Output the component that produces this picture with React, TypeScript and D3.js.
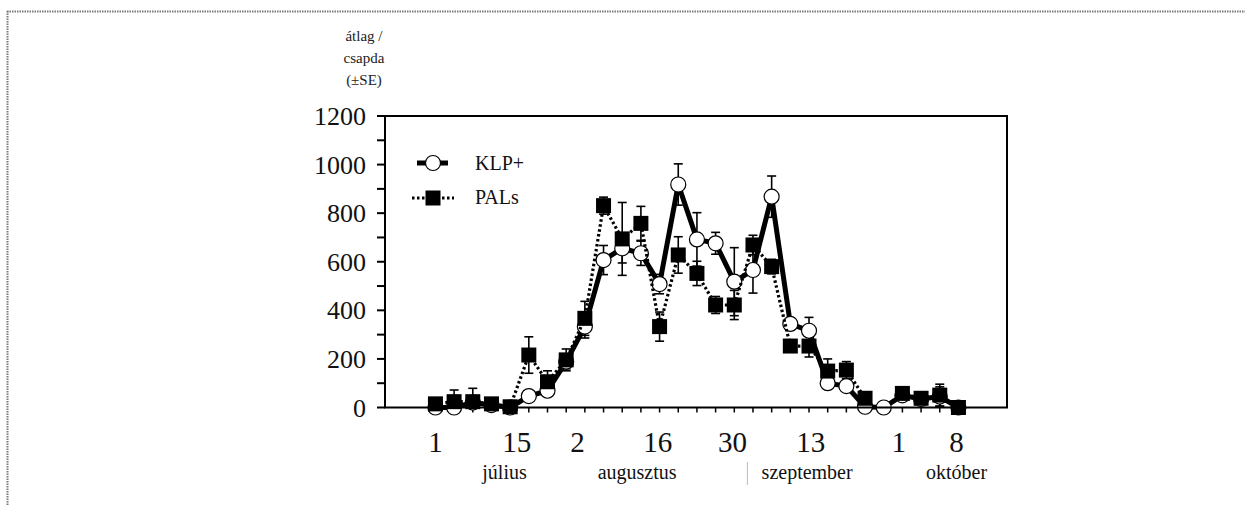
import React from 'react';
import * as d3 from 'd3';

// sampling occasions (index along the season)
const idx = d3.range(29);

// KLP+ traps, mean catch per trap and SE
const klp = [0, 0, 20, 10, 0, 47, 69, 189, 333, 607, 655, 635, 508, 918, 692, 676, 518, 566, 868, 344, 316, 100, 88, 3, 0, 50, 35, 45, 0];
const klpSe = [5, 5, 10, 10, 5, 10, 20, 30, 47, 60, 60, 50, 40, 85, 110, 45, 140, 95, 85, 25, 55, 20, 20, 10, 0, 10, 10, 40, 5];

// PALs traps
const pals = [15, 24, 24, 15, 3, 216, 106, 196, 367, 831, 694, 758, 333, 628, 552, 422, 422, 669, 580, 253, 253, 150, 154, 38, null, 58, 38, 51, 0];
const palsSe = [0, 48, 55, 10, 5, 75, 45, 45, 70, 35, 150, 70, 60, 75, 50, 35, 60, 40, 30, 20, 45, 50, 35, 15, null, 15, 15, 45, 5];

const yTicks = [0, 200, 400, 600, 800, 1000, 1200];
const yMinor = d3.range(0, 1201, 100);

// day labels and where they sit on the index axis
const dayLabels = ['1', '15', '2', '16', '30', '13', '1', '8'];
const dayPos = [0, 4.35, 7.6, 11.9, 15.9, 20.1, 24.8, 27.9];
const monthLabels = ['július', 'augusztus', 'szeptember', 'október'];
const monthPos = [3.7, 10.8, 19.9, 27.9];
const monthSep = 16.7;

const yTitle = ['átlag /', 'csapda', '(±SE)'];

const W = 1245;
const H = 506;
const font = '"Liberation Serif", "Times New Roman", serif';

export default function App() {
  const x = d3.scaleLinear().domain([-2.7, 30.6]).range([385, 1007]);
  const y = d3.scaleLinear().domain([0, 1200]).range([407.5, 116]);

  const line = d3
    .line<[number, number | null]>()
    .defined(d => d[1] != null)
    .x(d => x(d[0]))
    .y(d => y(d[1] as number));

  const klpPts: [number, number | null][] = idx.map(i => [i, klp[i]]);
  const palsPts: [number, number | null][] = idx.map(i => [i, pals[i]]);

  const errBar = (vals: (number | null)[], se: (number | null)[], key: string) =>
    idx.map(i => {
      const v = vals[i];
      const s = se[i];
      if (v == null || s == null || s === 0) return null;
      const cx = x(i);
      const y1 = y(v + s);
      const y2 = y(Math.max(0, v - s));
      return (
        <g key={key + i} stroke="#000" strokeWidth={1.6}>
          <line x1={cx} x2={cx} y1={y1} y2={y2} />
          <line x1={cx - 4.5} x2={cx + 4.5} y1={y1} y2={y1} />
          <line x1={cx - 4.5} x2={cx + 4.5} y1={y2} y2={y2} />
        </g>
      );
    });

  const [x0, x1] = x.range();
  const [yb, yt] = y.range();

  return (
    <svg
      width={W}
      height={H}
      style={{ position: 'absolute', left: 0, top: 0, background: '#fff' }}
      fontFamily={font}
    >
      {/* page frame */}
      <line x1={7} x2={W} y1={11.5} y2={11.5} stroke="#7a7a7a" strokeWidth={2} strokeDasharray="1.5,1" />
      <line x1={7.5} x2={7.5} y1={11} y2={H} stroke="#7a7a7a" strokeWidth={2} strokeDasharray="1.5,1" />

      {/* y title */}
      {yTitle.map((t, i) => (
        <text key={t} x={364} y={41 + i * 22} fontSize={15} textAnchor="middle" fill="#222">
          {t}
        </text>
      ))}

      {/* y axis ticks and labels */}
      {yMinor.map(v => (
        <line key={'ym' + v} x1={x0 - 8} x2={x0} y1={y(v)} y2={y(v)} stroke="#000" strokeWidth={2} />
      ))}
      {yTicks.map(v => (
        <text key={'yt' + v} x={366} y={y(v)} dy="0.35em" fontSize={26} textAnchor="end" fill="#111">
          {v}
        </text>
      ))}

      {/* x ticks */}
      {idx.map(i => (
        <line key={'xt' + i} x1={x(i)} x2={x(i)} y1={yb} y2={yb + 5} stroke="#000" strokeWidth={1.5} />
      ))}
      {dayLabels.map((t, i) => (
        <text key={'d' + i} x={x(dayPos[i])} y={452} fontSize={29} textAnchor="middle" fill="#111">
          {t}
        </text>
      ))}
      {monthLabels.map((t, i) => (
        <text key={'m' + i} x={x(monthPos[i])} y={479} fontSize={20} textAnchor="middle" fill="#111">
          {t}
        </text>
      ))}
      <line x1={x(monthSep)} x2={x(monthSep)} y1={462} y2={485} stroke="#bbb" strokeWidth={1} />

      {/* error bars */}
      {errBar(klp, klpSe, 'ek')}
      {errBar(pals, palsSe, 'ep')}

      {/* KLP+ */}
      <path d={line(klpPts) || ''} fill="none" stroke="#000" strokeWidth={5} strokeLinejoin="round" />
      {idx.map(i => (
        <circle key={'c' + i} cx={x(i)} cy={y(klp[i])} r={7.5} fill="#fff" stroke="#000" strokeWidth={1.2} />
      ))}

      {/* PALs */}
      <path d={line(palsPts) || ''} fill="none" stroke="#000" strokeWidth={3.2} strokeDasharray="2.5,2.5" />
      {idx.map(i =>
        pals[i] == null ? null : (
          <rect key={'s' + i} x={x(i) - 7.5} y={y(pals[i] as number) - 7.5} width={15} height={15} fill="#000" />
        )
      )}

      {/* plot frame */}
      <rect x={x0} y={yt} width={x1 - x0} height={yb - yt} fill="none" stroke="#000" strokeWidth={2} />

      {/* legend */}
      <line x1={417} x2={448} y1={163} y2={163} stroke="#000" strokeWidth={5} />
      <circle cx={433} cy={163} r={7.5} fill="#fff" stroke="#000" strokeWidth={1.2} />
      <text x={475} y={170} fontSize={20} fill="#111">KLP+</text>
      <line x1={412} x2={454} y1={198} y2={198} stroke="#000" strokeWidth={3.2} strokeDasharray="2.5,2.5" />
      <rect x={425.5} y={190.5} width={15} height={15} fill="#000" />
      <text x={475} y={204} fontSize={20} fill="#111">PALs</text>
    </svg>
  );
}
